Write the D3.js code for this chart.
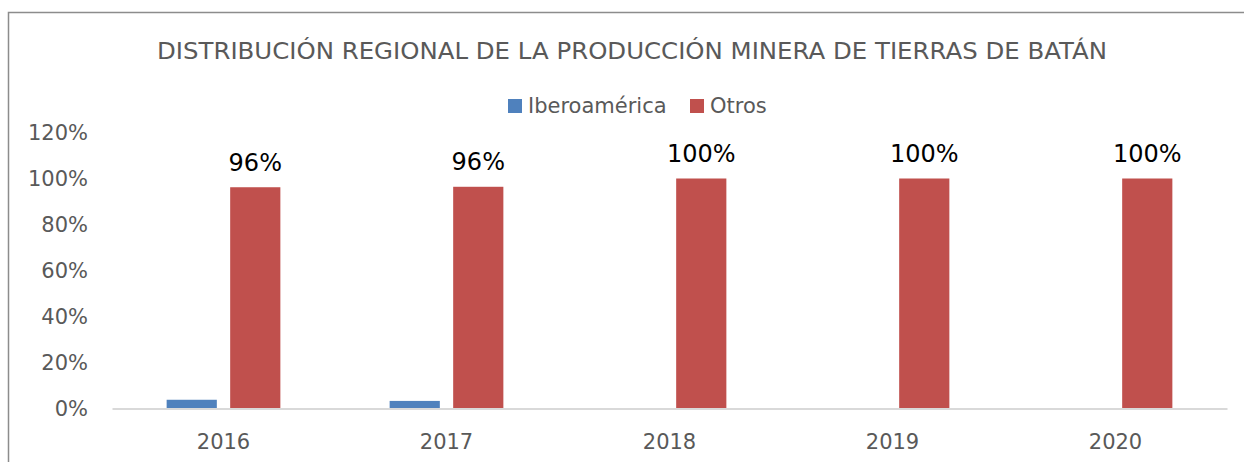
<!DOCTYPE html>
<html>
<head>
<meta charset="utf-8">
<script src="https://cdn.jsdelivr.net/npm/d3@7"></script>
<style>
  body { margin: 0; background: #fff; }
  svg { display: block; }
  text { font-family: 'DejaVu Sans', sans-serif; }
</style>
</head>
<body>
<svg id="chart" width="1244" height="462"></svg>
<script>
const years = ['2016', '2017', '2018', '2019', '2020'];
const series = ['Iberoamérica', 'Otros'];
const iberoamerica = [0.038, 0.033, 0, 0, 0];
const otros = [0.962, 0.964, 1, 1, 1];
const yTicks = [0, 0.2, 0.4, 0.6, 0.8, 1, 1.2];
const title = 'DISTRIBUCIÓN REGIONAL DE LA PRODUCCIÓN MINERA DE TIERRAS DE BATÁN';

const colors = d3.scaleOrdinal().domain(series).range(['#4f81bd', '#c0504d']);

const svg = d3.select('#chart');

// chart frame (only top and left edges visible in the crop)
svg.append('path')
  .attr('d', 'M8.5,462 V12.5 H1244')
  .attr('fill', 'none')
  .attr('stroke', '#8c8c8c')
  .attr('stroke-width', 1.5);

svg.append('text')
  .attr('x', 632)
  .attr('y', 59)
  .attr('text-anchor', 'middle')
  .attr('font-size', 23)
  .attr('textLength', 950)
  .attr('lengthAdjust', 'spacingAndGlyphs')
  .attr('fill', '#595959')
  .text(title);

// legend
const legendPos = [508, 690];
series.forEach((s, i) => {
  svg.append('rect')
    .attr('x', legendPos[i]).attr('y', 99)
    .attr('width', 14).attr('height', 14)
    .attr('fill', colors(s));
  svg.append('text')
    .attr('x', legendPos[i] + 20).attr('y', 113)
    .attr('font-size', 21)
    .attr('fill', '#595959')
    .text(s);
});

const x = d3.scaleBand().domain(years).range([112, 1227]);
const x1 = d3.scaleBand().domain(series).range([0, x.bandwidth()])
  .paddingInner(0.21).paddingOuter(0.86);
const y = d3.scaleLinear().domain([0, 1.2]).range([408.5, 132.5]);

const yAxis = svg.append('g')
  .attr('transform', 'translate(112,0)')
  .call(d3.axisLeft(y).tickValues(yTicks).tickFormat(d3.format('.0%')).tickSize(0).tickPadding(24));
yAxis.select('.domain').remove();
yAxis.attr('font-family', null);
yAxis.selectAll('text')
  .attr('font-size', 21)
  .attr('fill', '#595959');

const data = years.map((yr, i) => ({ year: yr, values: [iberoamerica[i], otros[i]] }));

const groups = svg.append('g').selectAll('g')
  .data(data)
  .join('g')
  .attr('transform', (d) => `translate(${x(d.year)},0)`);

groups.selectAll('rect')
  .data((d) => d.values.map((v, j) => ({ key: series[j], value: v })))
  .join('rect')
  .attr('x', (d) => x1(d.key))
  .attr('y', (d) => y(d.value))
  .attr('width', x1.bandwidth())
  .attr('height', (d) => y(0) - y(d.value))
  .attr('fill', (d) => colors(d.key));

// labels only on Otros
groups.append('text')
  .attr('x', x1('Otros') + x1.bandwidth() / 2)
  .attr('y', (d) => y(d.values[1]) - 16.5)
  .attr('text-anchor', 'middle')
  .attr('font-family', "'Liberation Sans', Arial, sans-serif")
  .attr('font-size', 24)
  .attr('fill', '#000')
  .text((d) => d3.format('.0%')(d.values[1]));

const xAxis = svg.append('g')
  .attr('transform', 'translate(0,408.5)')
  .call(d3.axisBottom(x).tickSize(0).tickPadding(0));
xAxis.attr('font-family', null);
xAxis.select('.domain')
  .attr('stroke', '#d9d9d9')
  .attr('stroke-width', 2);
xAxis.selectAll('text')
  .attr('font-size', 21)
  .attr('fill', '#595959')
  .attr('dy', null)
  .attr('y', 40);
</script>
</body>
</html>
